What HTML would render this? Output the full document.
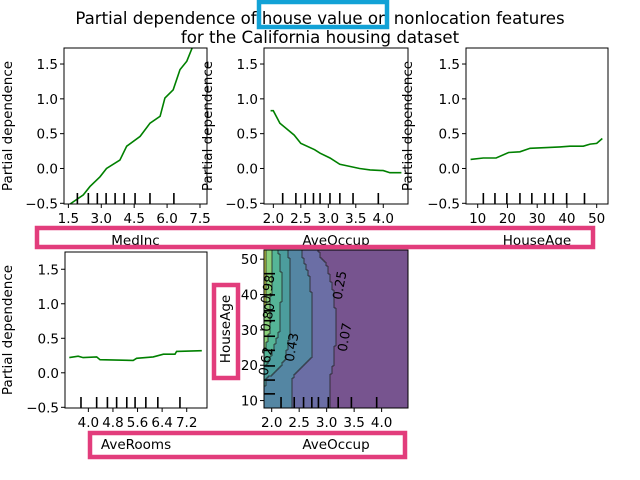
<!DOCTYPE html>
<html><head><meta charset="utf-8"><style>
body{margin:0;background:#fff;}
svg{display:block;font-family:"DejaVu Sans","Liberation Sans",sans-serif;}
</style></head><body>
<svg id="fig" width="640" height="480" viewBox="0 0 640 480">
<rect width="640" height="480" fill="#fff"/>
<text x="320" y="24" text-anchor="middle" font-size="16.6" fill="#000">Partial dependence of house value on nonlocation features</text>
<text x="320" y="43" text-anchor="middle" font-size="16.6" fill="#000">for the California housing dataset</text>
</svg>
<script>
// ---- data ----
const medincX=[1.58,2.18,2.48,2.94,3.24,3.85,4.16,4.77,5.22,5.68,5.9,6.28,6.59,6.9,7.17,7.4];
const medincY=[-0.51,-0.38,-0.26,-0.12,0.0,0.12,0.32,0.46,0.65,0.75,1.01,1.13,1.42,1.54,1.75,2.1];
const medincDeciles=[1.91,2.41,2.82,3.22,3.63,4.04,4.54,5.22,6.31];
const occupX=[1.95,2.0,2.12,2.38,2.5,2.75,2.85,3.03,3.21,3.39,3.57,3.76,4.0,4.12,4.33];
const occupY=[0.83,0.83,0.65,0.48,0.36,0.27,0.22,0.15,0.06,0.03,0.0,-0.02,-0.03,-0.06,-0.06];
const occupDeciles=[2.17,2.41,2.58,2.73,2.85,3.03,3.21,3.45,3.91];
const ageX=[7.6,11.9,16.2,20.4,24.2,27.6,33.2,37.7,41,45.5,47.8,50,51.9];
const ageY=[0.13,0.15,0.15,0.23,0.24,0.29,0.3,0.31,0.32,0.32,0.35,0.36,0.43];
const ageDeciles=[11.9,15.8,19.8,24.2,28.2,32.6,35.4,39.9,45.9];
const roomsX=[3.38,3.67,3.83,4.27,4.38,5.46,5.57,6.11,6.44,6.82,6.87,7.69];
const roomsY=[0.22,0.24,0.22,0.23,0.19,0.18,0.21,0.23,0.27,0.27,0.31,0.32];
const roomsDeciles=[3.76,4.27,4.62,4.92,5.25,5.52,5.87,6.26,6.98];
const pdTicks=[-0.5,0.0,0.5,1.0,1.5];
const medincTicks=[1.5,3.0,4.5,6.0,7.5];
const occupTicks=[2.0,2.5,3.0,3.5,4.0];
const ageTicks=[10,20,30,40,50];
const roomsTicks=[4.0,4.8,5.6,6.4,7.2];
const gridAges=[8,16,22,30,40,46,52];
const gridOccup=[1.85,1.95,2.05,2.2,2.35,2.5,2.7,2.9,3.1,3.3,4.45];
const gridZ=[
[0.42,0.38,0.34,0.3,0.26,0.2,0.15,0.1,0.06,0.03,-0.05],
[0.45,0.4,0.36,0.31,0.26,0.2,0.15,0.1,0.06,0.03,-0.05],
[0.75,0.65,0.55,0.47,0.35,0.3,0.26,0.15,0.08,0.03,-0.05],
[1.0,0.82,0.7,0.58,0.42,0.33,0.26,0.17,0.09,0.03,-0.05],
[1.05,0.85,0.72,0.6,0.43,0.33,0.26,0.15,0.08,0.03,-0.05],
[1.05,0.88,0.72,0.6,0.42,0.32,0.24,0.12,0.05,0.03,-0.05],
[1.05,0.88,0.7,0.55,0.38,0.28,0.15,0.05,0.04,0.02,-0.05]];
const levels=[0.07,0.25,0.43,0.62,0.80,0.98];
const levelLabels=["0.07","0.25","0.43","0.62","0.80","0.98"];
const bandColors=["#77548f","#6b6ea5","#5486a3","#4c9d9d","#55b597","#8ad07a","#d4e14d"];

const NS="http://www.w3.org/2000/svg";
const svg=document.getElementById('fig');
function mk(tag,attrs,parent){const e=document.createElementNS(NS,tag);for(const k in attrs)e.setAttribute(k,attrs[k]);(parent||svg).appendChild(e);return e;}
function fmt(v,d){return v<0?'\u2212'+Math.abs(v).toFixed(d):v.toFixed(d);}

function axes(c){
  const g=mk('g',{});
  
  
  const sx=v=>c.x0+(v-c.xmin)/(c.xmax-c.xmin)*(c.x1-c.x0);
  const sy=v=>c.y1-(v-c.ymin)/(c.ymax-c.ymin)*(c.y1-c.y0);
  return {g,sx,sy};
}
function frame(c,A){
  const r=mk('rect',{x:c.x0,y:c.y0,width:c.x1-c.x0,height:c.y1-c.y0,fill:'none',stroke:'#000','stroke-width':1},A.g);
  
  
  c.xt.forEach(v=>{const x=A.sx(v);
    mk('line',{x1:x,x2:x,y1:c.y1,y2:c.y1+4,stroke:'#000'},A.g);
    const t=mk('text',{x:x,y:c.y1+19,'text-anchor':'middle','font-size':13.5},A.g);t.textContent=fmt(v,c.xd);
    
    });
  c.yt.forEach(v=>{const y=A.sy(v);
    mk('line',{x1:c.x0-4,x2:c.x0,y1:y,y2:y,stroke:'#000'},A.g);
    const t=mk('text',{x:c.x0-6,y:y+5,'text-anchor':'end','font-size':13.5},A.g);t.textContent=fmt(v,c.yd);
    
    });
  const xl=mk('text',{x:(c.x0+c.x1)/2,y:c.y1+41,'text-anchor':'middle','font-size':13.5},A.g);xl.textContent=c.xlabel;
  
  
  const yl=mk('text',{x:0,y:0,'text-anchor':'middle','font-size':13.5,transform:`translate(${c.ylx},${(c.y0+c.y1)/2}) rotate(-90)`},A.g);yl.textContent=c.ylabel;
  
  
}
function linePlot(c){
  const A=axes(c);
  const cid='clip'+c.name;
  const cp=mk('clipPath',{id:cid},A.g);mk('rect',{x:c.x0,y:c.y0,width:c.x1-c.x0,height:c.y1-c.y0},cp);
  const d=c.xs.map((v,i)=>(i?'L':'M')+A.sx(v).toFixed(1)+','+A.sy(c.ys[i]).toFixed(1)).join('');
  const p=mk('path',{d:d,fill:'none',stroke:'#008000','stroke-width':1.6,'clip-path':`url(#${cid})`},A.g);
  
  
  c.dec.forEach(v=>{const x=A.sx(v);const l=mk('line',{x1:x,x2:x,y1:c.y1-11,y2:c.y1,stroke:'#000','stroke-width':1.6},A.g);
    
    });
  frame(c,A);
}
const pdY={ymin:-0.51,ymax:1.73,yt:pdTicks,yd:1,ylabel:'Partial dependence'};
linePlot(Object.assign({name:'medinc-plot',x0:64,x1:207,y0:48,y1:204,xmin:1.30,xmax:7.82,xt:medincTicks,xd:1,xlabel:'MedInc',ylx:12,xs:medincX,ys:medincY,dec:medincDeciles},pdY));
linePlot(Object.assign({name:'aveoccup-plot',x0:264,x1:408,y0:48,y1:204,xmin:1.83,xmax:4.45,xt:occupTicks,xd:1,xlabel:'AveOccup',ylx:212,xs:occupX,ys:occupY,dec:occupDeciles},pdY));
linePlot(Object.assign({name:'houseage-plot',x0:466,x1:608,y0:48,y1:204,xmin:6.07,xmax:53.8,xt:ageTicks,xd:0,xlabel:'HouseAge',ylx:412,xs:ageX,ys:ageY,dec:ageDeciles},pdY));
linePlot(Object.assign({name:'averooms-plot',x0:65,x1:207,y0:252,y1:408,xmin:3.24,xmax:7.86,xt:roomsTicks,xd:1,xlabel:'AveRooms',ylx:12,xs:roomsX,ys:roomsY,dec:roomsDeciles},{ymin:-0.51,ymax:1.75,yt:pdTicks,yd:1,ylabel:'Partial dependence'}));

// contour plot
(function(){
  const c={name:'contour-plot',x0:264,x1:408,y0:250,y1:408,xmin:1.86,xmax:4.48,ymin:7.9,ymax:52.6,xt:occupTicks,xd:1,yt:ageTicks,yd:0,xlabel:'AveOccup',ylabel:'HouseAge',ylx:230};
  const A=axes(c);
  function interp(arr,v){let i=0;while(i<arr.length-2&&v>arr[i+1])i++;let t=(v-arr[i])/(arr[i+1]-arr[i]);t=Math.max(0,Math.min(1,t));return [i,t];}
  const step=2;
  const nx=Math.ceil((c.x1-c.x0)/step), ny=Math.ceil((c.y1-c.y0)/step);
  const bands=[];
  for(let ix=0;ix<nx;ix++){
    const px=c.x0+ix*step;
    const ox=c.xmin+(px+step/2-c.x0)/(c.x1-c.x0)*(c.xmax-c.xmin);
    const [ci,ct]=interp(gridOccup,ox);
    bands.push([]);
    for(let iy=0;iy<ny;iy++){
      const py=c.y0+iy*step;
      const ay=c.ymin+(c.y1-(py+step/2))/(c.y1-c.y0)*(c.ymax-c.ymin);
      const [ri,rt]=interp(gridAges,ay);
      const z=(1-rt)*((1-ct)*gridZ[ri][ci]+ct*gridZ[ri][ci+1])+rt*((1-ct)*gridZ[ri+1][ci]+ct*gridZ[ri+1][ci+1]);
      let b=0;while(b<levels.length&&z>levels[b])b++;
      bands[ix].push(b);
      mk('rect',{x:px,y:py,width:Math.min(step,c.x1-px)+0.3,height:Math.min(step,c.y1-py)+0.3,fill:bandColors[b]},A.g);
    }
  }
  // contour boundary lines
  let d='';
  for(let ix=0;ix<nx;ix++)for(let iy=0;iy<ny;iy++){
    const px=c.x0+ix*step, py=c.y0+iy*step;
    if(ix>0&&bands[ix][iy]!==bands[ix-1][iy]) d+=`M${px},${py}v${step}`;
    if(iy>0&&bands[ix][iy]!==bands[ix][iy-1]) d+=`M${px},${py}h${step}`;
  }
  const cl=mk('path',{d:d,stroke:'#222','stroke-width':0.8,fill:'none'},A.g);
  
  
  const lab=[[349,338,'0.07'],[344,286,'0.25'],[296,348,'0.43'],[270,362,'0.62'],[272,318,'0.80'],[272,290,'0.98']];
  lab.forEach(l=>{const t=mk('text',{x:0,y:0,'text-anchor':'middle','font-size':13,transform:`translate(${l[0]},${l[1]}) rotate(-80)`},A.g);
    t.textContent=levelLabels[levelLabels.indexOf(l[2])];
    
    });
  occupDeciles.forEach(v=>{const x=A.sx(v);const l=mk('line',{x1:x,x2:x,y1:c.y1-11,y2:c.y1,stroke:'#000','stroke-width':1.6},A.g);
    
    });
  ageDeciles.forEach(v=>{const y=A.sy(v);const l=mk('line',{x1:c.x0,x2:c.x0+11,y1:y,y2:y,stroke:'#000','stroke-width':1.6},A.g);
    
    });
  frame(c,A);
})();

// annotation boxes
function box(x,y,w,h,col,name){const r=mk('rect',{x:x,y:y,width:w,height:h,fill:'none',stroke:col,'stroke-width':4.5});
  
  }
box(259,2,128,25,'#12a2d6','title-highlight-box');
box(37,228,556,19,'#e23d7c','top-xlabels-highlight-box');
box(214,285,24,93,'#e23d7c','houseage-label-highlight-box');
box(90,433,315,24,'#e23d7c','bottom-xlabels-highlight-box');
</script>
</body></html>
